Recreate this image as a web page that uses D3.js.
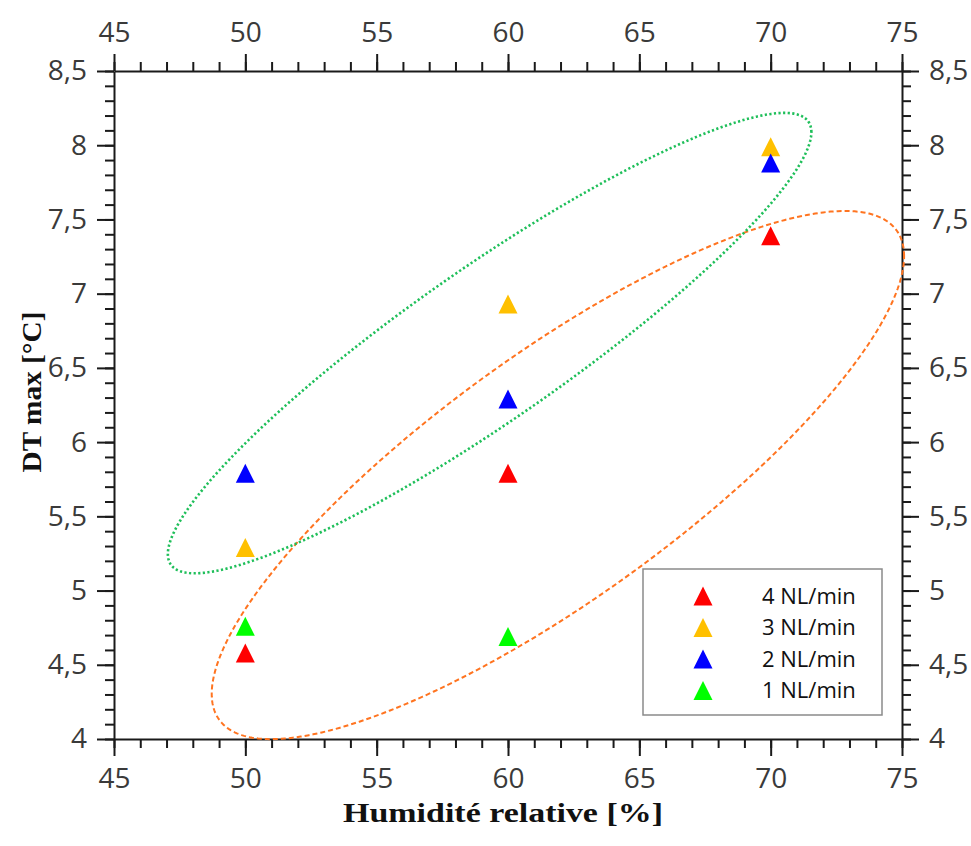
<!DOCTYPE html>
<html>
<head>
<meta charset="utf-8">
<script src="https://cdn.jsdelivr.net/npm/d3@7"></script>
<style>
  html, body { margin: 0; padding: 0; background: #fff; }
  svg { display: block; }
</style>
</head>
<body>
<svg id="chart" width="971" height="846"></svg>
<script>
// ---------- data ----------
const humidity = [50, 60, 70];
const seriesNames = ["4 NL/min", "3 NL/min", "2 NL/min", "1 NL/min"];
const seriesColors = ["#ff0000", "#ffc000", "#0000ff", "#00ff00"];
const flow4 = [4.58, 5.79, 7.39];
const flow3 = [5.29, 6.93, 7.99];
const flow2 = [5.79, 6.29, 7.88];
const flow1 = [4.76, 4.69];
const seriesValues = [flow4, flow3, flow2, flow1];

const xTicks = [45, 50, 55, 60, 65, 70, 75];
const yTicks = [4, 4.5, 5, 5.5, 6, 6.5, 7, 7.5, 8, 8.5];
const yTickLabels = ["4", "4,5", "5", "5,5", "6", "6,5", "7", "7,5", "8", "8,5"];

// ellipses (data units): center, conjugate half-axis vectors u and v
const greenEllipse = { cx: 59.3, cy: 6.667, ux: 12.25, uy: 1.421, vx: 0, vy: 0.621 };
const orangeEllipse = { cx: 61.90, cy: 5.778, ux: 13.18, uy: 1.474, vx: 0, vy: 0.996 };

// ---------- layout ----------
const svg = d3.select("#chart");
const L = 114, R = 902, T = 71, B = 739;
const x = d3.scaleLinear().domain([45, 75]).range([L, R]);
const y = d3.scaleLinear().domain([4, 8.5]).range([B, T]);

const axisColor = "#1a1a1a";
const labelColor = "#3a3a3a";
const tickFont = "'Open Sans', 'Noto Sans', sans-serif";

function styleAxis(g) {
  g.selectAll("path.domain").attr("stroke", axisColor).attr("stroke-width", 2);
  g.selectAll(".tick line").attr("stroke", axisColor).attr("stroke-width", 2);
  g.selectAll("text").attr("fill", labelColor).attr("font-family", tickFont).attr("font-size", 28);
}

const xMinor = d3.range(45, 75.001, 1);
const yMinor = d3.range(0, 46).map(i => 4 + i * 0.1);

// minor ticks
function minor(axisGen, vals, transform) {
  const g = svg.append("g").attr("transform", transform)
    .call(axisGen.tickValues(vals).tickSize(9).tickFormat(""));
  g.select("path.domain").remove();
  g.selectAll(".tick line").attr("stroke", axisColor).attr("stroke-width", 2);
}
minor(d3.axisBottom(x), xMinor, `translate(0,${B})`);
minor(d3.axisTop(x), xMinor, `translate(0,${T})`);
minor(d3.axisLeft(y), yMinor, `translate(${L},0)`);
minor(d3.axisRight(y), yMinor, `translate(${R},0)`);

// major axes
svg.append("g").attr("transform", `translate(0,${B})`)
  .call(d3.axisBottom(x).tickValues(xTicks).tickSize(17).tickSizeOuter(0).tickPadding(12).tickFormat(d3.format("d")))
  .call(styleAxis);
svg.append("g").attr("transform", `translate(0,${T})`)
  .call(d3.axisTop(x).tickValues(xTicks).tickSize(17).tickSizeOuter(0).tickPadding(12).tickFormat(d3.format("d")))
  .call(styleAxis);
const yFmt = (d, i) => yTickLabels[i];
svg.append("g").attr("transform", `translate(${L},0)`)
  .call(d3.axisLeft(y).tickValues(yTicks).tickSize(17).tickSizeOuter(0).tickPadding(10).tickFormat(yFmt))
  .call(styleAxis);
svg.append("g").attr("transform", `translate(${R},0)`)
  .call(d3.axisRight(y).tickValues(yTicks).tickSize(17).tickSizeOuter(0).tickPadding(10).tickFormat(yFmt))
  .call(styleAxis);

// ---------- ellipses ----------
function ellipsePath(e) {
  const pts = d3.range(0, 361).map(i => {
    const t = i * Math.PI / 180;
    return [x(e.cx + e.ux * Math.cos(t) + e.vx * Math.sin(t)),
            y(e.cy + e.uy * Math.cos(t) + e.vy * Math.sin(t))];
  });
  return d3.line()(pts) + "Z";
}
svg.append("path").attr("d", ellipsePath(orangeEllipse))
  .attr("fill", "none").attr("stroke", "#ff7420").attr("stroke-width", 2)
  .attr("stroke-dasharray", "5,3");
svg.append("path").attr("d", ellipsePath(greenEllipse))
  .attr("fill", "none").attr("stroke", "#1fbf5a").attr("stroke-width", 2.6)
  .attr("stroke-dasharray", "2.2,2.4");

// ---------- markers ----------
const triPath = "M0,-9.5L9.5,9.5L-9.5,9.5Z";
seriesValues.forEach((vals, si) => {
  svg.append("g").selectAll("path").data(vals).join("path")
    .attr("d", triPath)
    .attr("transform", (d, i) => `translate(${x(humidity[i])},${y(d)})`)
    .attr("fill", seriesColors[si]);
});

// ---------- legend ----------
const lg = svg.append("g");
lg.append("rect").attr("x", 643).attr("y", 569).attr("width", 239).attr("height", 146)
  .attr("fill", "#fff").attr("stroke", "#8a8a8a").attr("stroke-width", 1.5);
seriesNames.forEach((name, i) => {
  const cy = 596 + i * 31.5;
  lg.append("path").attr("d", triPath).attr("transform", `translate(703,${cy})`).attr("fill", seriesColors[i]);
  lg.append("text").attr("x", 762).attr("y", cy).attr("dy", "0.35em")
    .attr("font-family", tickFont).attr("font-size", 22).attr("fill", "#111").text(name);
});

// ---------- axis titles ----------
const titleFont = "'Liberation Serif', 'DejaVu Serif', serif";
svg.append("text").attr("x", 503).attr("y", 822).attr("text-anchor", "middle")
  .attr("font-family", titleFont).attr("font-weight", "bold").attr("font-size", 27)
  .attr("textLength", 320).attr("lengthAdjust", "spacingAndGlyphs")
  .attr("fill", "#111").text("Humidité relative [%]");
svg.append("text").attr("transform", "translate(41,392) rotate(-90)").attr("text-anchor", "middle")
  .attr("font-family", titleFont).attr("font-weight", "bold").attr("font-size", 27)
  .attr("textLength", 161).attr("lengthAdjust", "spacingAndGlyphs")
  .attr("fill", "#111").text("DT max [°C]");
</script>
</body>
</html>
